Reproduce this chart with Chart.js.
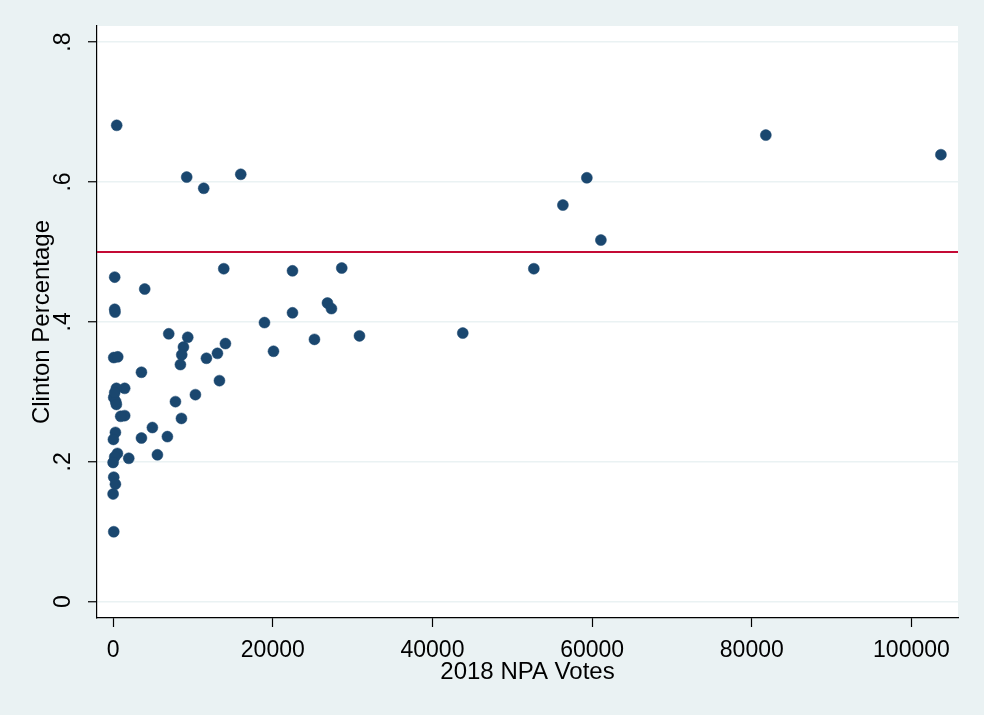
<!DOCTYPE html>
<html>
<head>
<meta charset="utf-8">
<script src="https://cdn.jsdelivr.net/npm/chart.js@4/dist/chart.umd.min.js"></script>
<style>
  html, body { margin: 0; padding: 0; background: #eaf2f3; }
  #wrap { width: 984px; height: 715px; }
</style>
</head>
<body>
<div id="wrap"><canvas id="npaChart" width="984" height="715"></canvas></div>
<script>
// Dados
const npaVotes = [450, 9220, 11350, 15990, 81760, 103690, 59340, 56340, 61100, 52700,
  43800, 30860, 28640, 22470, 26850, 27350, 22470, 18960, 20090, 25220,
  13860, 14070, 13070, 13320, 11690, 9350, 8810, 8600, 8430, 6970,
  10310, 7810, 8560, 6800, 4920, 3550, 5550, 1960, 3550, 3960,
  1450, 1450, 950, 200, 200, 240, 80, 580, 410, 80,
  330, 410, 200, 290, 40, 540, 200, 0, 80, 290, 0, 80];
const clintonPct = [0.681, 0.607, 0.591, 0.611, 0.667, 0.639, 0.606, 0.567, 0.517, 0.476,
  0.384, 0.380, 0.477, 0.473, 0.427, 0.419, 0.413, 0.399, 0.358, 0.375,
  0.476, 0.369, 0.355, 0.316, 0.348, 0.378, 0.364, 0.353, 0.339, 0.383,
  0.296, 0.286, 0.262, 0.236, 0.249, 0.234, 0.210, 0.205, 0.328, 0.447,
  0.305, 0.266, 0.265, 0.464, 0.418, 0.414, 0.349, 0.350, 0.305, 0.292,
  0.286, 0.282, 0.299, 0.242, 0.232, 0.212, 0.207, 0.199, 0.178, 0.168, 0.154, 0.100];

const xTicks = [0, 20000, 40000, 60000, 80000, 100000];
const xTickLabels = ['0', '20000', '40000', '60000', '80000', '100000'];
const yTicks = [0, 0.2, 0.4, 0.6, 0.8];
const yTickLabels = ['0', '.2', '.4', '.6', '.8'];
const xRange = [-2017, 105830];
const yRange = [-0.0233, 0.823];
const refLineY = 0.5;

const BG = '#eaf2f3';
const FONT = "'Liberation Sans', Arial, sans-serif";

// fundo cinza + área do gráfico branca
const bgPlugin = {
  id: 'bgPlugin',
  beforeDraw(chart) {
    const { ctx, chartArea: a } = chart;
    ctx.save();
    ctx.fillStyle = BG;
    ctx.fillRect(0, 0, chart.width, chart.height);
    ctx.fillStyle = '#ffffff';
    ctx.fillRect(a.left, a.top, a.right - a.left, a.bottom - a.top);
    ctx.restore();
  }
};

const points = npaVotes.map((v, i) => ({ x: v, y: clintonPct[i] }));

new Chart(document.getElementById('npaChart'), {
  type: 'scatter',
  data: {
    datasets: [
      {
        type: 'line',
        label: 'ref',
        data: [{ x: xRange[0], y: refLineY }, { x: xRange[1], y: refLineY }],
        borderColor: '#c40a35',
        borderWidth: 2,
        pointRadius: 0,
        order: 2
      },
      {
        label: 'Clinton Percentage',
        data: points,
        backgroundColor: '#1a476f',
        borderColor: '#1a476f',
        borderWidth: 0.5,
        pointRadius: 5.5,
        order: 1
      }
    ]
  },
  options: {
    responsive: false,
    animation: false,
    devicePixelRatio: 1,
    layout: { padding: { top: 26, right: 26, left: 0, bottom: 0 } },
    plugins: { legend: { display: false }, tooltip: { enabled: false } },
    scales: {
      x: {
        type: 'linear',
        min: xRange[0],
        max: xRange[1],
        afterBuildTicks: (s) => { s.ticks = xTicks.map(v => ({ value: v })); },
        afterFit: (s) => { s.height = 97; s.paddingLeft = 0; s.paddingRight = 0; },
        ticks: {
          color: '#000',
          font: { family: FONT, size: 23 },
          padding: 10,
          maxRotation: 0,
          callback: (v) => xTickLabels[xTicks.indexOf(v)]
        },
        grid: { drawOnChartArea: false, tickColor: '#000', tickLength: 9, tickWidth: 1.2 },
        border: { color: '#000', width: 1.2 },
        title: {
          display: true,
          text: '2018 NPA Votes',
          color: '#000',
          font: { family: FONT, size: 24 },
          padding: { top: 0, bottom: 28 }
        }
      },
      y: {
        type: 'linear',
        min: yRange[0],
        max: yRange[1],
        afterBuildTicks: (s) => { s.ticks = yTicks.map(v => ({ value: v })); },
        afterFit: (s) => { s.width = 97; s.paddingTop = 0; s.paddingBottom = 0; },
        ticks: {
          color: '#000',
          font: { family: FONT, size: 23 },
          padding: 15,
          minRotation: 90,
          maxRotation: 90,
          crossAlign: 'center',
          callback: (v) => yTickLabels[yTicks.indexOf(v)]
        },
        grid: { color: BG, lineWidth: 1.5, tickColor: '#000', tickLength: 9, tickWidth: 1.2 },
        border: { color: '#000', width: 1.2 },
        title: {
          display: true,
          text: 'Clinton Percentage',
          color: '#000',
          font: { family: FONT, size: 24 },
          padding: { top: 28, bottom: 0 }
        }
      }
    }
  },
  plugins: [bgPlugin]
});
</script>
</body>
</html>
